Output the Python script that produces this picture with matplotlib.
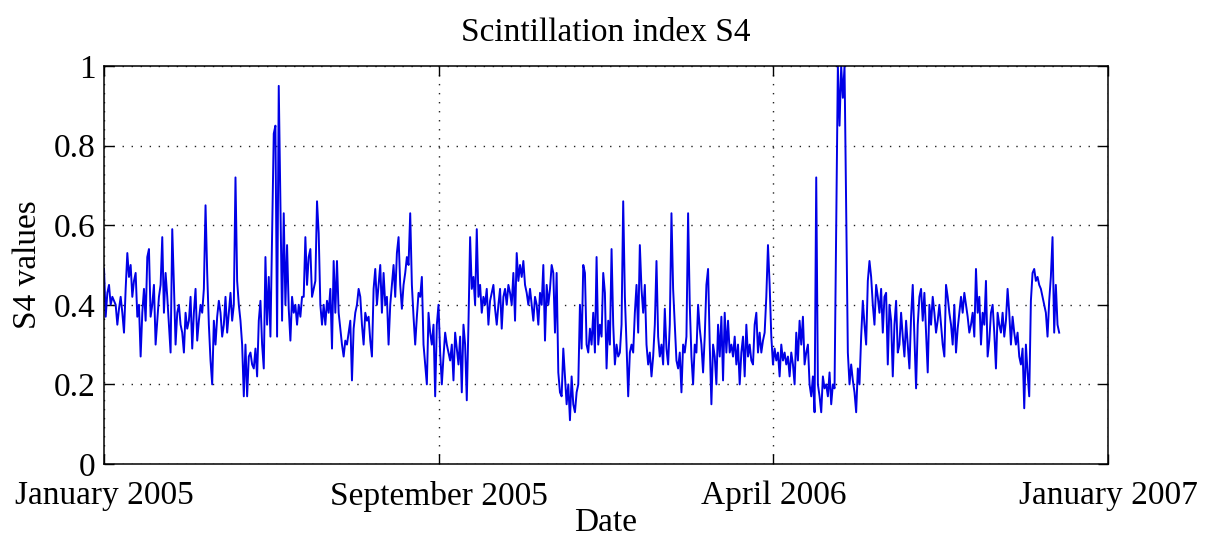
"""Daily scintillation index S4, Jan 2005 - Nov 2006, MATLAB-style line plot."""
import matplotlib

matplotlib.use("Agg")
import matplotlib.pyplot as plt
import numpy as np

# S4 samples, one value every ~1.21 days, split into four-month blocks
s4_block1 = [
    0.49, 0.37, 0.43, 0.45, 0.40, 0.42, 0.41, 0.40, 0.35, 0.39,
    0.42, 0.38, 0.33, 0.44, 0.53, 0.47, 0.50, 0.42, 0.46, 0.48,
    0.37, 0.40, 0.27, 0.38, 0.44, 0.36, 0.52, 0.54, 0.37, 0.40,
    0.45, 0.30, 0.36, 0.42, 0.45, 0.57, 0.38, 0.48, 0.42, 0.35,
    0.28, 0.59, 0.45, 0.30, 0.38, 0.40, 0.35, 0.33, 0.28, 0.38,
    0.34, 0.36, 0.42, 0.29, 0.38, 0.44, 0.31, 0.36, 0.40, 0.38,
    0.44, 0.65, 0.48, 0.35, 0.26, 0.20, 0.36, 0.30, 0.37, 0.41,
    0.38, 0.32, 0.35, 0.42, 0.33, 0.38, 0.43, 0.36, 0.40, 0.72,
    0.46, 0.40, 0.36, 0.30, 0.17, 0.30, 0.17, 0.27, 0.28, 0.25,
    0.24, 0.29, 0.22, 0.36,
]
s4_block2 = [
    0.41, 0.30, 0.24, 0.52, 0.35, 0.47, 0.32, 0.58, 0.83, 0.85,
    0.32, 0.95, 0.65, 0.36, 0.63, 0.40, 0.55, 0.39, 0.31, 0.42,
    0.38, 0.40, 0.35, 0.40, 0.37, 0.42, 0.42, 0.57, 0.45, 0.52,
    0.54, 0.42, 0.44, 0.46, 0.66, 0.58, 0.40, 0.35, 0.40, 0.35,
    0.41, 0.38, 0.44, 0.29, 0.51, 0.38, 0.51, 0.38, 0.34, 0.30,
    0.27, 0.31, 0.30, 0.33, 0.36, 0.21, 0.34, 0.38, 0.40, 0.44,
    0.42, 0.35, 0.30, 0.38, 0.36, 0.37, 0.31, 0.27, 0.44, 0.49,
    0.40, 0.45, 0.50, 0.38, 0.48, 0.40, 0.42, 0.30, 0.40, 0.45,
    0.50, 0.42, 0.53, 0.57, 0.45, 0.39, 0.45, 0.48, 0.52, 0.50,
    0.63, 0.45, 0.37, 0.30,
]
s4_block3 = [
    0.37, 0.43, 0.42, 0.47, 0.30, 0.25, 0.20, 0.38, 0.33, 0.30,
    0.35, 0.17, 0.35, 0.40, 0.28, 0.20, 0.27, 0.33, 0.30, 0.28,
    0.26, 0.30, 0.21, 0.33, 0.29, 0.25, 0.32, 0.18, 0.35, 0.30,
    0.16, 0.35, 0.57, 0.44, 0.47, 0.40, 0.59, 0.42, 0.45, 0.38,
    0.42, 0.40, 0.44, 0.35, 0.41, 0.43, 0.45, 0.39, 0.35, 0.40,
    0.44, 0.34, 0.42, 0.44, 0.40, 0.45, 0.43, 0.40, 0.48, 0.36,
    0.53, 0.46, 0.50, 0.47, 0.51, 0.45, 0.43, 0.40, 0.44, 0.40,
    0.36, 0.42, 0.40, 0.35, 0.43, 0.40, 0.50, 0.31, 0.45, 0.40,
    0.44, 0.50, 0.48, 0.33, 0.48, 0.23, 0.18, 0.17, 0.29, 0.22,
    0.15, 0.20, 0.11, 0.22,
]
s4_block4 = [
    0.15, 0.13, 0.18, 0.20, 0.40, 0.29, 0.50, 0.48, 0.30, 0.28,
    0.34, 0.30, 0.38, 0.28, 0.52, 0.30, 0.35, 0.32, 0.48, 0.43,
    0.24, 0.36, 0.30, 0.54, 0.35, 0.25, 0.30, 0.27, 0.28, 0.35,
    0.66, 0.42, 0.30, 0.17, 0.28, 0.30, 0.28, 0.38, 0.45, 0.33,
    0.55, 0.44, 0.38, 0.45, 0.30, 0.25, 0.28, 0.22, 0.27, 0.35,
    0.51, 0.32, 0.27, 0.30, 0.25, 0.39, 0.29, 0.25, 0.35, 0.63,
    0.44, 0.35, 0.26, 0.24, 0.28, 0.18, 0.30, 0.28, 0.32, 0.63,
    0.40, 0.27, 0.20, 0.30, 0.28, 0.40, 0.34, 0.30, 0.23, 0.32,
    0.45, 0.49, 0.30, 0.15, 0.30, 0.27, 0.20, 0.35, 0.27, 0.37,
    0.21, 0.38, 0.28, 0.36,
]
s4_block5 = [
    0.28, 0.30, 0.27, 0.32, 0.25, 0.30, 0.20, 0.28, 0.32, 0.22,
    0.35, 0.27, 0.30, 0.26, 0.25, 0.35, 0.38, 0.28, 0.33, 0.28,
    0.31, 0.33, 0.42, 0.55, 0.45, 0.32, 0.25, 0.29, 0.26, 0.28,
    0.22, 0.30, 0.26, 0.28, 0.25, 0.27, 0.22, 0.28, 0.25, 0.20,
    0.33, 0.26, 0.36, 0.30, 0.37, 0.25, 0.28, 0.30, 0.20, 0.17,
    0.22, 0.13, 0.72, 0.20, 0.17, 0.13, 0.22, 0.19, 0.20, 0.17,
    0.23, 0.15, 0.20, 0.19, 0.60, 1.00, 0.85, 1.00, 0.92, 1.00,
    0.64, 0.28, 0.20, 0.25, 0.21, 0.18, 0.13, 0.24, 0.20, 0.32,
    0.41, 0.35, 0.30, 0.46, 0.51, 0.47, 0.40, 0.35, 0.45, 0.42,
    0.38, 0.44, 0.33, 0.42,
]
s4_block6 = [
    0.43, 0.25, 0.40, 0.36, 0.22, 0.35, 0.41, 0.28, 0.30, 0.38,
    0.32, 0.27, 0.36, 0.30, 0.24, 0.37, 0.45, 0.32, 0.19, 0.35,
    0.42, 0.44, 0.36, 0.43, 0.33, 0.23, 0.40, 0.35, 0.42, 0.38,
    0.33, 0.36, 0.40, 0.35, 0.30, 0.27, 0.45, 0.42, 0.38, 0.35,
    0.30, 0.40, 0.28, 0.34, 0.38, 0.42, 0.38, 0.43, 0.40, 0.37,
    0.33, 0.35, 0.38, 0.32, 0.49, 0.38, 0.42, 0.30, 0.38, 0.35,
    0.46, 0.27, 0.31, 0.38, 0.40, 0.33, 0.24, 0.38, 0.35, 0.33,
    0.38, 0.32, 0.36, 0.44, 0.38, 0.30, 0.37, 0.33, 0.30, 0.33,
    0.27, 0.25, 0.29, 0.14, 0.30, 0.23, 0.17, 0.41, 0.48, 0.49,
    0.46, 0.47, 0.45, 0.44,
]
s4_block7 = [0.42, 0.40, 0.38, 0.32, 0.41, 0.47, 0.57, 0.33, 0.45, 0.35, 0.33]

SAMPLE_STEP_DAYS = 1.21
SPAN_DAYS = 730  # Jan 2005 .. Jan 2007
tick_labels = ["January 2005", "September 2005", "April 2006", "January 2007"]
y_ticks = [0, 0.2, 0.4, 0.6, 0.8, 1.0]
y_tick_labels = ["0", "0.2", "0.4", "0.6", "0.8", "1"]


def main() -> None:
    plt.rcParams["font.family"] = ["Liberation Serif", "DejaVu Serif"]
    s4 = np.concatenate([s4_block1, s4_block2, s4_block3, s4_block4,
                         s4_block5, s4_block6, s4_block7])
    days = np.arange(len(s4)) * SAMPLE_STEP_DAYS

    fig = plt.figure(figsize=(12.11, 5.43), dpi=100)
    ax = fig.add_axes([0.0859, 0.1455, 0.8290, 0.7330])
    ax.plot(days, s4, color="#0000e6", lw=1.4)

    ax.set_xlim(0, SPAN_DAYS)
    ax.set_ylim(0, 1)
    ax.set_xticks(np.linspace(0, SPAN_DAYS, len(tick_labels)), tick_labels)
    ax.set_yticks(y_ticks, y_tick_labels)
    ax.grid(True, color="#222222", lw=1.0, linestyle=(0, (1, 5.5)))
    ax.tick_params(direction="in", length=7, width=1.0, labelsize=24,
                   top=True, right=True)
    ax.tick_params(axis="x", pad=12)
    ax.tick_params(axis="y", pad=6)
    for side in ax.spines.values():
        side.set_linewidth(1.1)

    ax.set_title("Scintillation index S4", fontsize=24, pad=18)
    ax.set_xlabel("Date", fontsize=24, labelpad=-3)
    ax.set_ylabel("S4 values", fontsize=24, labelpad=8)

    fig.savefig("out.png", dpi=100)


if __name__ == "__main__":
    main()
